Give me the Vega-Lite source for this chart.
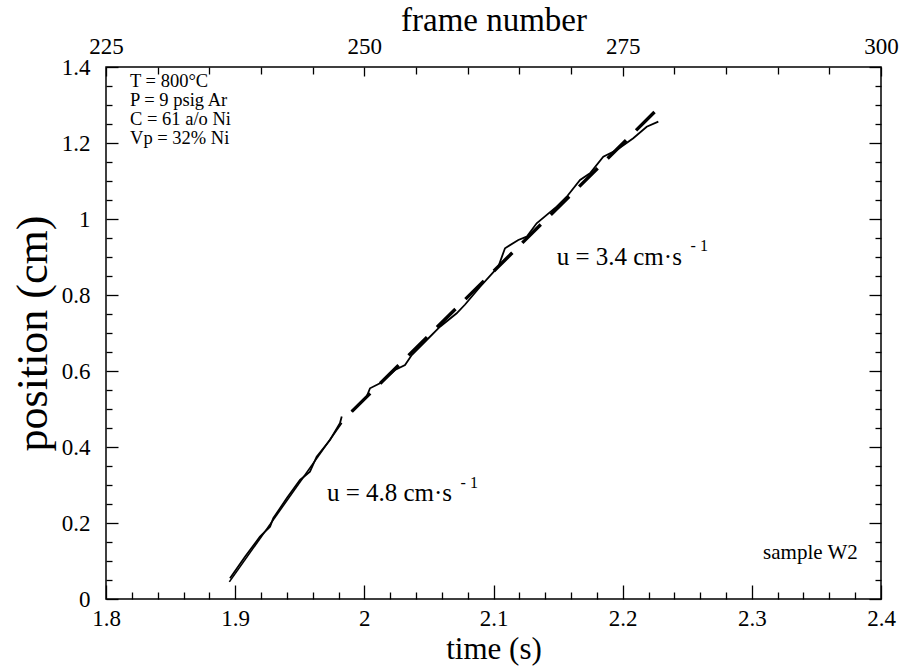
{
  "$schema": "https://vega.github.io/schema/vega-lite/v6.json",
  "width": 775,
  "height": 532,
  "autosize": {"type": "none"},
  "padding": {"left": 106, "top": 67, "right": 19, "bottom": 70},
  "background": "white",
  "config": {
    "view": {"stroke": "black", "strokeWidth": 1.5},
    "font": "Liberation Serif",
    "axis": {
      "domain": false,
      "grid": false,
      "tickColor": "black",
      "tickWidth": 1.3,
      "labelColor": "black",
      "titleColor": "black",
      "labelFont": "Liberation Serif",
      "titleFont": "Liberation Serif",
      "titleFontWeight": "normal",
      "labelFontSize": 23,
      "labelFlush": false,
      "labelOverlap": false,
      "labelBound": false
    }
  },
  "datasets": {
    "curve": [
      {"t": 1.8960, "p": 0.0545, "seg": "a"},
      {"t": 1.9076, "p": 0.1113, "seg": "a"},
      {"t": 1.9192, "p": 0.1640, "seg": "a"},
      {"t": 1.9270, "p": 0.1903, "seg": "a"},
      {"t": 1.9295, "p": 0.2124, "seg": "a"},
      {"t": 1.9399, "p": 0.2650, "seg": "a"},
      {"t": 1.9502, "p": 0.3132, "seg": "a"},
      {"t": 1.9579, "p": 0.3350, "seg": "a"},
      {"t": 1.9631, "p": 0.3745, "seg": "a"},
      {"t": 1.9734, "p": 0.4184, "seg": "a"},
      {"t": 1.9811, "p": 0.4624, "seg": "a"},
      {"t": 1.9825, "p": 0.4800, "seg": "a"},
      {"t": 1.9902, "p": 0.4929, "seg": "b"},
      {"t": 2.0018, "p": 0.5324, "seg": "b"},
      {"t": 2.0044, "p": 0.5545, "seg": "b"},
      {"t": 2.0121, "p": 0.5676, "seg": "b"},
      {"t": 2.0237, "p": 0.6026, "seg": "b"},
      {"t": 2.0315, "p": 0.6158, "seg": "b"},
      {"t": 2.0367, "p": 0.6421, "seg": "b"},
      {"t": 2.0483, "p": 0.6816, "seg": "b"},
      {"t": 2.0586, "p": 0.7166, "seg": "b"},
      {"t": 2.0715, "p": 0.7518, "seg": "b"},
      {"t": 2.0780, "p": 0.7750, "seg": "b"},
      {"t": 2.0895, "p": 0.8211, "seg": "b"},
      {"t": 2.1037, "p": 0.8745, "seg": "b"},
      {"t": 2.1089, "p": 0.9230, "seg": "b"},
      {"t": 2.1192, "p": 0.9447, "seg": "b"},
      {"t": 2.1257, "p": 0.9534, "seg": "b"},
      {"t": 2.1334, "p": 0.9887, "seg": "b"},
      {"t": 2.1489, "p": 1.0324, "seg": "b"},
      {"t": 2.1567, "p": 1.0587, "seg": "b"},
      {"t": 2.1670, "p": 1.1026, "seg": "b"},
      {"t": 2.1747, "p": 1.1203, "seg": "b"},
      {"t": 2.1850, "p": 1.1640, "seg": "b"},
      {"t": 2.1954, "p": 1.1816, "seg": "b"},
      {"t": 2.2082, "p": 1.2124, "seg": "b"},
      {"t": 2.2186, "p": 1.2429, "seg": "b"},
      {"t": 2.2276, "p": 1.2561, "seg": "b"}
    ],
    "fit1": [
      {"t": 1.8955, "p": 0.045},
      {"t": 1.9825, "p": 0.463}
    ],
    "fit2": [
      {"t": 1.9902, "p": 0.493},
      {"t": 2.2275, "p": 1.291}
    ],
    "params": [
      {"t": 1.8186, "p": 1.363, "label": "T = 800°C"},
      {"t": 1.8186, "p": 1.313, "label": "P = 9 psig Ar"},
      {"t": 1.8186, "p": 1.263, "label": "C = 61 a/o Ni"},
      {"t": 1.8186, "p": 1.213, "label": "Vp = 32% Ni"}
    ],
    "rates": [
      {"t": 1.971, "p": 0.279, "label": "u = 4.8 cm·s"},
      {"t": 2.1489, "p": 0.901, "label": "u = 3.4 cm·s"}
    ],
    "sups": [
      {"t": 2.0745, "p": 0.305, "label": "-  1"},
      {"t": 2.2526, "p": 0.928, "label": "-  1"}
    ],
    "sample": [
      {"t": 2.382, "p": 0.121, "label": "sample W2"}
    ]
  },
  "layer": [
    {
      "layer": [
        {
          "data": {"name": "curve"},
          "mark": {"type": "line", "color": "black", "strokeWidth": 1.8},
          "encoding": {
            "x": {"field": "t", "type": "quantitative", "scale": {"domain": [1.8, 2.4], "nice": false, "zero": false},
              "axis": {"orient": "bottom", "values": [1.8, 1.9, 2.0, 2.1, 2.2, 2.3, 2.4], "format": "~g", "tickSize": -14, "labelPadding": 22, "title": "time (s)", "titleFontSize": 31, "titlePadding": 4}},
            "y": {"field": "p", "type": "quantitative", "scale": {"domain": [0, 1.4], "nice": false, "zero": false},
              "axis": {"orient": "left", "values": [0, 0.2, 0.4, 0.6, 0.8, 1.0, 1.2, 1.4], "format": "~g", "tickSize": -12, "labelPadding": 28, "title": "position (cm)", "titleFontSize": 44, "titlePadding": 6}},
            "detail": {"field": "seg"}
          }
        },
        {
          "data": {"name": "fit1"},
          "mark": {"type": "line", "color": "black", "strokeWidth": 1.6},
          "encoding": {
            "x": {"field": "t", "type": "quantitative"},
            "y": {"field": "p", "type": "quantitative"}
          }
        },
        {
          "data": {"name": "fit2"},
          "mark": {"type": "line", "color": "black", "strokeWidth": 3.4, "strokeDash": [26, 14]},
          "encoding": {
            "x": {"field": "t", "type": "quantitative"},
            "y": {"field": "p", "type": "quantitative"}
          }
        },
        {
          "data": {"name": "params"},
          "mark": {"type": "text", "align": "left", "baseline": "middle", "fontSize": 18.5, "color": "black", "font": "Liberation Serif"},
          "encoding": {
            "x": {"field": "t", "type": "quantitative"},
            "y": {"field": "p", "type": "quantitative"},
            "text": {"field": "label"}
          }
        },
        {
          "data": {"name": "rates"},
          "mark": {"type": "text", "align": "left", "baseline": "middle", "fontSize": 25, "color": "black", "font": "Liberation Serif"},
          "encoding": {
            "x": {"field": "t", "type": "quantitative"},
            "y": {"field": "p", "type": "quantitative"},
            "text": {"field": "label"}
          }
        },
        {
          "data": {"name": "sups"},
          "mark": {"type": "text", "align": "left", "baseline": "middle", "fontSize": 16, "color": "black", "font": "Liberation Serif"},
          "encoding": {
            "x": {"field": "t", "type": "quantitative"},
            "y": {"field": "p", "type": "quantitative"},
            "text": {"field": "label"}
          }
        },
        {
          "data": {"name": "sample"},
          "mark": {"type": "text", "align": "right", "baseline": "middle", "fontSize": 21, "color": "black", "font": "Liberation Serif"},
          "encoding": {
            "x": {"field": "t", "type": "quantitative"},
            "y": {"field": "p", "type": "quantitative"},
            "text": {"field": "label"}
          }
        }
      ]
    },
    {
      "data": {"name": "curve"},
      "mark": {"type": "point", "opacity": 0},
      "encoding": {
        "x": {"field": "t", "type": "quantitative", "scale": {"domain": [1.8, 2.4], "nice": false, "zero": false},
          "axis": {"orient": "bottom", "values": [1.82, 1.84, 1.86, 1.88, 1.92, 1.94, 1.96, 1.98, 2.02, 2.04, 2.06, 2.08, 2.12, 2.14, 2.16, 2.18, 2.22, 2.24, 2.26, 2.28, 2.32, 2.34, 2.36, 2.38], "labels": false, "tickSize": -7, "title": null}},
        "y": {"field": "p", "type": "quantitative", "scale": {"domain": [0, 1.4], "nice": false, "zero": false},
          "axis": {"orient": "left", "values": [0.05, 0.1, 0.15, 0.25, 0.3, 0.35, 0.45, 0.5, 0.55, 0.65, 0.7, 0.75, 0.85, 0.9, 0.95, 1.05, 1.1, 1.15, 1.25, 1.3, 1.35], "labels": false, "tickSize": -6, "title": null}}
      }
    },
    {
      "data": {"name": "curve"},
      "mark": {"type": "point", "opacity": 0},
      "encoding": {
        "x": {"field": "t", "type": "quantitative", "scale": {"domain": [1.8, 2.4], "nice": false, "zero": false},
          "axis": {"orient": "top", "values": [1.8, 2.0, 2.2, 2.4], "labelExpr": "format(225 + (datum.value - 1.8) * 125, 'd')", "tickSize": -9, "labelPadding": 18, "title": "frame number", "titleFontSize": 33, "titlePadding": -2}},
        "y": {"field": "p", "type": "quantitative", "scale": {"domain": [0, 1.4], "nice": false, "zero": false},
          "axis": {"orient": "right", "values": [0, 0.2, 0.4, 0.6, 0.8, 1.0, 1.2, 1.4], "labels": false, "tickSize": -12, "title": null}}
      }
    },
    {
      "data": {"name": "curve"},
      "mark": {"type": "point", "opacity": 0},
      "encoding": {
        "x": {"field": "t", "type": "quantitative", "scale": {"domain": [1.8, 2.4], "nice": false, "zero": false},
          "axis": {"orient": "top", "values": [1.84, 1.88, 1.92, 1.96, 2.04, 2.08, 2.12, 2.16, 2.24, 2.28, 2.32, 2.36], "labels": false, "tickSize": -7, "title": null}},
        "y": {"field": "p", "type": "quantitative", "scale": {"domain": [0, 1.4], "nice": false, "zero": false},
          "axis": {"orient": "right", "values": [0.05, 0.1, 0.15, 0.25, 0.3, 0.35, 0.45, 0.5, 0.55, 0.65, 0.7, 0.75, 0.85, 0.9, 0.95, 1.05, 1.1, 1.15, 1.25, 1.3, 1.35], "labels": false, "tickSize": -6, "title": null}}
      }
    }
  ],
  "resolve": {"scale": {"x": "independent", "y": "independent"}}
}
